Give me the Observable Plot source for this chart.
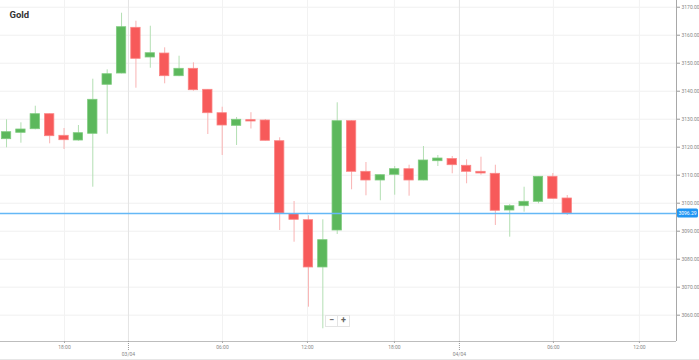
<!DOCTYPE html>
<html>
<head>
<meta charset="utf-8">
<script src="https://cdn.jsdelivr.net/npm/d3@7"></script>
<script src="https://cdn.jsdelivr.net/npm/@observablehq/plot@0.6"></script>
<style>
  html, body { margin: 0; padding: 0; background: #fff; }
  #wrap { position: relative; width: 699px; height: 360px; overflow: hidden; font-family: Roboto, "Open Sans", sans-serif; }
  #bottomline { position: absolute; left: 0; top: 359px; width: 699px; height: 1px; background: #e6e6e6; }
  #zoom { position: absolute; left: 325px; top: 315px; height: 10px; display: flex; border: 1px solid #e4e4e4; background: #fff; }
  #zoom div { width: 11px; height: 10px; font-size: 9px; line-height: 9px; text-align: center; color: #666; font-weight: bold; }
  #zoom div + div { border-left: 1px solid #e4e4e4; }
</style>
</head>
<body>
<div id="wrap">
  <div id="chart"></div>
  <div id="bottomline"></div>
  <div id="zoom"><div>−</div><div>+</div></div>
</div>
<script>
// hourly candles (index 0..39)
const candleIndex = d3.range(40);
const openPrices  = [3122.86,3125.14,3126.43,3131.79,3124.07,3122.39,3124.79,3142.29,3146.32,3162.64,
                     3152.04,3153.46,3145.36,3148.00,3140.50,3132.14,3127.64,3129.43,3129.54,3122.14,
                     3096.07,3093.93,3077.04,3090.25,3129.29,3111.21,3108.11,3110.14,3112.14,3108.11,
                     3115.00,3115.79,3113.36,3111.21,3110.50,3097.39,3098.93,3100.50,3109.43,3101.68];
const highPrices  = [3129.79,3128.71,3134.64,3131.90,3126.68,3127.75,3144.29,3147.64,3167.86,3165.00,
                     3163.21,3155.50,3152.50,3150.14,3140.60,3134.29,3130.61,3132.32,3129.90,3123.36,
                     3100.61,3095.50,3094.07,3135.86,3129.50,3114.54,3110.10,3113.11,3113.57,3120.25,
                     3117.04,3116.68,3115.50,3116.43,3113.57,3099.54,3105.71,3109.50,3110.61,3102.75];
const lowPrices   = [3119.79,3121.43,3126.20,3121.21,3119.18,3122.14,3105.71,3124.64,3146.20,3141.07,
                     3148.21,3142.64,3145.20,3140.00,3124.54,3117.04,3120.61,3126.50,3122.20,3090.25,
                     3086.07,3062.86,3055.14,3088.82,3104.79,3102.64,3100.86,3102.86,3102.50,3108.00,
                     3113.11,3110.50,3106.93,3110.00,3092.04,3087.86,3096.79,3099.79,3101.50,3095.61];
const closePrices = [3125.36,3126.32,3131.79,3123.93,3122.50,3125.00,3136.93,3146.07,3162.86,3151.57,
                     3153.57,3145.36,3148.00,3140.36,3132.14,3127.75,3129.79,3129.18,3122.29,3096.32,
                     3094.07,3077.04,3086.79,3129.29,3111.21,3108.11,3110.00,3112.14,3108.11,3115.25,
                     3115.96,3113.57,3111.21,3110.61,3097.29,3098.93,3100.50,3109.43,3101.57,3096.29];
const lastPrice = 3096.29;
const lastPriceLabel = "3096.29";
const title = "Gold";

// axis ticks (in candle-index units)
const priceTicks = [3060, 3070, 3080, 3090, 3100, 3110, 3120, 3130, 3140, 3150, 3160, 3170];
const hourTicks  = [4.03, 15.02, 20.93, 26.98, 38.04, 44.02];
const hourLabels = ["18:00", "06:00", "12:00", "18:00", "06:00", "12:00"];
const dayTicks   = [8.48, 31.5];
const dayLabels  = ["03/04", "04/04"];

const candles = candleIndex.map(i => ({
  i, open: openPrices[i], high: highPrices[i], low: lowPrices[i], close: closePrices[i],
  up: closePrices[i] >= openPrices[i]
}));

const GREEN = "#5cb85c", RED = "#f75a5a";
const GREEN_W = "#b3dfb3", RED_W = "#f9b3b3";
const xDomain = [-0.42, 46.6];
const yDomain = [3050.6, 3172.4];
const half = 0.325;

const chart = Plot.plot({
  width: 699,
  height: 360,
  marginTop: 0,
  marginRight: 23,
  marginBottom: 19,
  marginLeft: 0,
  style: { fontFamily: "Roboto, sans-serif", background: "#fff" },
  x: { domain: xDomain, axis: null, label: null },
  y: { domain: yDomain, axis: null, label: null },
  marks: [
    // grid
    Plot.gridY(priceTicks, { stroke: "#f0f0f0", strokeOpacity: 1 }),
    Plot.gridX(hourTicks, { stroke: "#f2f2f2", strokeOpacity: 1 }),
    Plot.gridX(dayTicks, { stroke: "#e4e4e4", strokeOpacity: 1 }),
    // wicks
    Plot.ruleX(candles, { x: "i", y1: "low", y2: "high", stroke: d => d.up ? GREEN_W : RED_W, strokeWidth: 1 }),
    // bodies
    Plot.rect(candles, {
      x1: d => d.i - half, x2: d => d.i + half,
      y1: d => Math.min(d.open, d.close), y2: d => Math.max(d.open, d.close) + (Math.abs(d.open - d.close) < 0.3 ? 0.25 : 0),
      fill: d => d.up ? GREEN : RED,
      stroke: d => d.up ? "#7fcb7f" : "#fb8585",
      strokeWidth: 0.8
    }),
    // last price line
    Plot.ruleY([lastPrice], { stroke: "#64b8f6", strokeWidth: 1.5 }),
    // axes lines
    Plot.ruleX([xDomain[1]], { stroke: "#a8a8a8" }),
    Plot.ruleY([yDomain[0]], { stroke: "#bdbdbd" }),
    // y axis on the right
    Plot.axisY(priceTicks, {
      anchor: "right", label: null, tickSize: 3, tickPadding: 2, fontSize: 5,
      tickFormat: d => d.toFixed(2), stroke: "#999", fill: "#888"
    }),
    // x axis: hours
    Plot.axisX(hourTicks, {
      anchor: "bottom", label: null, tickSize: 2, tickPadding: 2, fontSize: 5,
      tickFormat: (d, i) => hourLabels[i], stroke: "#aaa", fill: "#888"
    }),
    // x axis: days
    Plot.axisX(dayTicks, {
      anchor: "bottom", label: null, tickSize: 9, tickPadding: 2, fontSize: 5,
      tickFormat: (d, i) => dayLabels[i], stroke: "#999", strokeDasharray: "1,1", fill: "#888"
    }),
    // title
    Plot.text([title], { frameAnchor: "top-left", dx: 9, dy: 11, text: d => d, fontSize: 9.5, fontWeight: "bold", fill: "#333", textAnchor: "start" })
  ]
});

document.getElementById("chart").appendChild(chart);

// last-price label box, positioned through the plot's y scale
const yPos = chart.scale("y").apply(lastPrice);
const svg = d3.select(chart);
const g = svg.append("g");
g.append("rect").attr("x", 677).attr("y", yPos - 4.5).attr("width", 21).attr("height", 9).attr("rx", 1.5).attr("fill", "#2196f3");
g.append("text").attr("x", 687.5).attr("y", yPos).attr("dy", "0.35em").attr("text-anchor", "middle")
  .attr("font-size", 5).attr("fill", "#fff").attr("font-family", "Roboto, sans-serif").text(lastPriceLabel);
</script>
</body>
</html>
